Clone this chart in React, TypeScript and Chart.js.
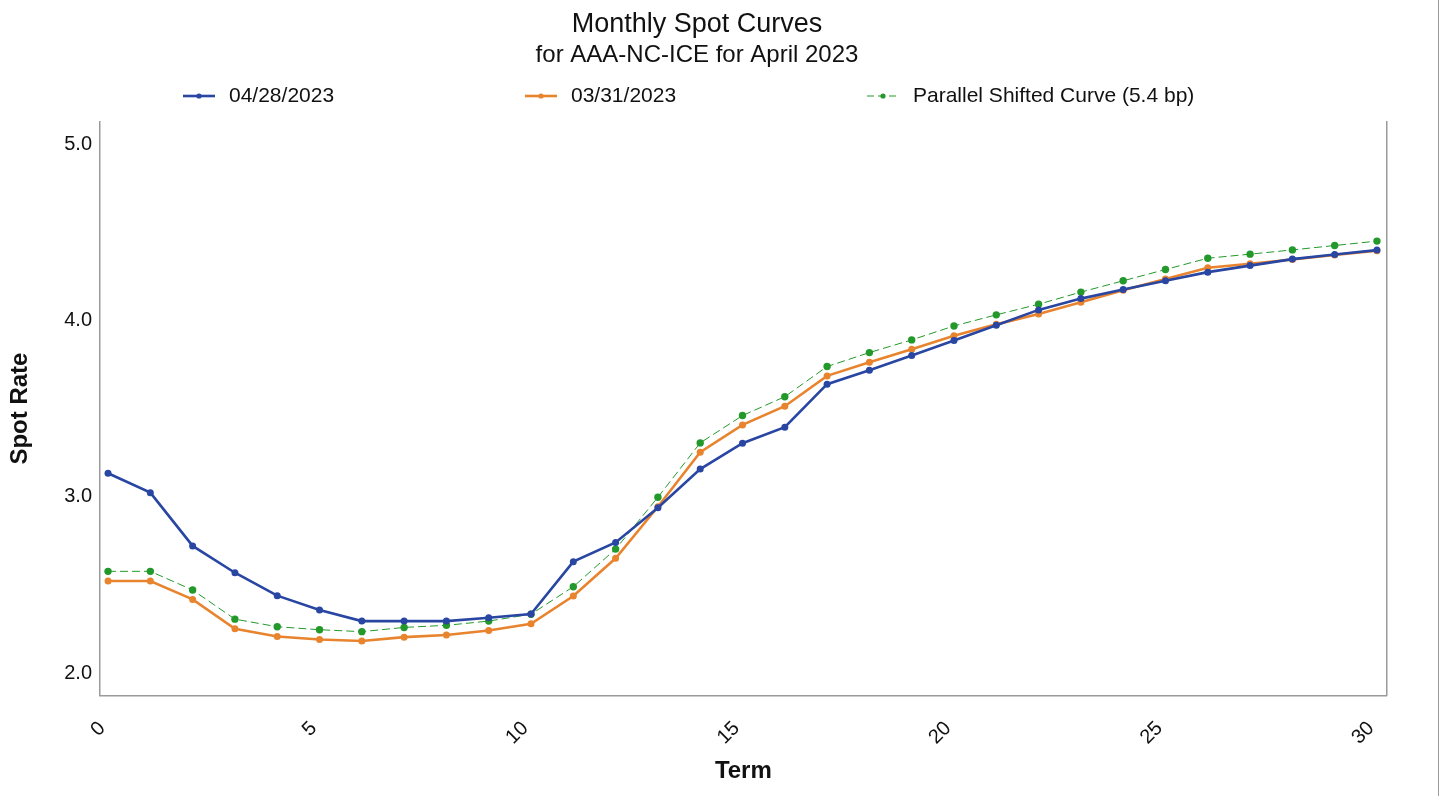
import React, { useEffect, useRef } from "react";
import { Chart, registerables } from "chart.js";

Chart.register(...registerables);

// ---------------- data ----------------
const terms = [
  0.14, 1.14, 2.14, 3.14, 4.14, 5.14, 6.14, 7.14, 8.14, 9.14, 10.14,
  11.14, 12.14, 13.14, 14.14, 15.14, 16.14, 17.14, 18.14, 19.14, 20.14,
  21.14, 22.14, 23.14, 24.14, 25.14, 26.14, 27.14, 28.14, 29.14, 30.14,
];

const rates0428 = [
  3.134, 3.024, 2.722, 2.570, 2.440, 2.359, 2.296, 2.296, 2.296, 2.315, 2.336,
  2.633, 2.742, 2.939, 3.158, 3.304, 3.395, 3.639, 3.718, 3.801, 3.886,
  3.973, 4.060, 4.124, 4.176, 4.225, 4.274, 4.311, 4.348, 4.374, 4.399,
];

const rates0331 = [
  2.523, 2.523, 2.419, 2.252, 2.209, 2.192, 2.183, 2.205, 2.217, 2.243, 2.281,
  2.438, 2.652, 2.944, 3.253, 3.408, 3.514, 3.686, 3.763, 3.837, 3.913,
  3.978, 4.037, 4.104, 4.171, 4.235, 4.299, 4.322, 4.346, 4.371, 4.396,
];

const ratesShifted = [
  2.578, 2.578, 2.472, 2.307, 2.264, 2.247, 2.236, 2.260, 2.272, 2.296, 2.335,
  2.491, 2.704, 2.998, 3.306, 3.461, 3.568, 3.739, 3.818, 3.890, 3.969,
  4.032, 4.092, 4.161, 4.225, 4.289, 4.353, 4.376, 4.400, 4.425, 4.450,
];

const seriesLabels = ["04/28/2023", "03/31/2023", "Parallel Shifted Curve (5.4 bp)"];
const xTickValues = [0, 5, 10, 15, 20, 25, 30];
const yTickValues = [2.0, 3.0, 4.0, 5.0];

const titleText = "Monthly Spot Curves";
const subtitleText = "for AAA-NC-ICE for April 2023";
const xAxisTitle = "Term";
const yAxisTitle = "Spot Rate";

// ---------------- styles ----------------
const FONT = "'Liberation Sans', Arial, Helvetica, sans-serif";
const BLUE = "#2846a2";
const ORANGE = "#e8842e";
const GREEN = "#22992a";
const FRAME = "#9a9a9a";
const TEXT = "#111111";

const toPoints = (ys: number[]) => ys.map((y, i) => ({ x: terms[i], y }));

const legendPlugin = {
  id: "customLegend",
  afterDraw(chart: any) {
    const ctx = chart.ctx as CanvasRenderingContext2D;
    const y = 96;
    const start = 183;
    const step = 342;
    chart.data.datasets.forEach((ds: any, i: number) => {
      const x0 = start + i * step;
      ctx.save();
      ctx.strokeStyle = ds.borderColor;
      ctx.lineWidth = ds.borderWidth;
      ctx.setLineDash(ds.borderDash ? [7, 4] : []);
      ctx.beginPath();
      ctx.moveTo(x0, y);
      ctx.lineTo(x0 + 32, y);
      ctx.stroke();
      ctx.setLineDash([]);
      ctx.fillStyle = ds.pointBackgroundColor;
      ctx.beginPath();
      ctx.arc(x0 + 16, y, 2.6, 0, Math.PI * 2);
      ctx.fill();
      ctx.fillStyle = TEXT;
      ctx.font = `21px ${FONT}`;
      ctx.textBaseline = "middle";
      ctx.textAlign = "left";
      ctx.fillText(ds.label, x0 + 46, y);
      ctx.restore();
    });
    // page edge line
    ctx.save();
    ctx.strokeStyle = "#9a9a9a";
    ctx.lineWidth = 1;
    ctx.beginPath();
    ctx.moveTo(1438.5, 0);
    ctx.lineTo(1438.5, 796);
    ctx.stroke();
    ctx.restore();
  },
};

export default function App() {
  const ref = useRef<HTMLCanvasElement>(null);

  useEffect(() => {
    if (!ref.current) return;
    const chart = new Chart(ref.current, {
      type: "line",
      data: {
        datasets: [
          {
            label: seriesLabels[0],
            data: toPoints(rates0428),
            borderColor: BLUE,
            backgroundColor: BLUE,
            pointBackgroundColor: BLUE,
            borderWidth: 2.6,
            pointRadius: 3.5,
            pointBorderWidth: 0,
            tension: 0,
          },
          {
            label: seriesLabels[1],
            data: toPoints(rates0331),
            borderColor: ORANGE,
            backgroundColor: ORANGE,
            pointBackgroundColor: ORANGE,
            borderWidth: 2.6,
            pointRadius: 3.5,
            pointBorderWidth: 0,
            tension: 0,
          },
          {
            label: seriesLabels[2],
            data: toPoints(ratesShifted),
            borderColor: GREEN,
            backgroundColor: GREEN,
            pointBackgroundColor: GREEN,
            borderWidth: 1,
            borderDash: [8, 4],
            pointRadius: 3.7,
            pointBorderWidth: 0,
            tension: 0,
          },
        ],
      },
      options: {
        responsive: false,
        devicePixelRatio: 1,
        animation: false,
        layout: { padding: { left: 0, right: 49, top: 0, bottom: 0 } },
        plugins: {
          legend: { display: false },
          tooltip: { enabled: false },
          title: {
            display: true,
            text: titleText,
            color: TEXT,
            font: { family: FONT, size: 27, weight: "normal", lineHeight: 1.2 },
            padding: { top: 8.4, bottom: 0 },
          },
          subtitle: {
            display: true,
            text: subtitleText,
            color: TEXT,
            font: { family: FONT, size: 24, weight: "normal", lineHeight: 1.2 },
            padding: { top: 0, bottom: 51.9 },
          },
        },
        scales: {
          x: {
            type: "linear",
            min: -0.05,
            max: 30.37,
            afterBuildTicks: (s: any) => {
              s.ticks = xTickValues.map((v) => ({ value: v }));
            },
            afterFit: (s: any) => {
              s.height = 100.3;
            },
            grid: { display: false, drawTicks: false, tickLength: 0 },
            border: { display: true, color: FRAME, width: 1.5 },
            ticks: {
              autoSkip: false,
              minRotation: 45,
              maxRotation: 45,
              padding: 21,
              color: TEXT,
              font: { family: FONT, size: 20 },
              callback: (v: any) => String(v),
            },
            title: {
              display: true,
              text: xAxisTitle,
              color: TEXT,
              font: { family: FONT, size: 24, weight: "bold", lineHeight: 1.2 },
              padding: { top: 0, bottom: 10 },
            },
          },
          y: {
            type: "linear",
            position: "left",
            min: 1.873,
            max: 5.128,
            afterBuildTicks: (s: any) => {
              s.ticks = yTickValues.map((v) => ({ value: v }));
            },
            afterFit: (s: any) => {
              s.width = 100;
            },
            grid: { display: false, drawTicks: false, tickLength: 0 },
            border: { display: true, color: FRAME, width: 1.5 },
            ticks: {
              padding: 8,
              color: TEXT,
              font: { family: FONT, size: 20 },
              callback: (v: any) => Number(v).toFixed(1),
            },
            title: {
              display: true,
              text: yAxisTitle,
              color: TEXT,
              font: { family: FONT, size: 24, weight: "bold", lineHeight: 1.2 },
              padding: { top: 5.6, bottom: 0 },
            },
          },
          y2: {
            type: "linear",
            position: "right",
            afterFit: (s: any) => {
              s.width = 7.3;
            },
            grid: { display: false, drawTicks: false, tickLength: 0 },
            border: { display: true, color: FRAME, width: 1.5 },
            ticks: { display: false },
          },
        },
      } as any,
      plugins: [legendPlugin],
    });
    return () => chart.destroy();
  }, []);

  return (
    <div
      style={{
        position: "fixed",
        left: 0,
        top: 0,
        width: 1443,
        height: 796,
        background: "#ffffff",
      }}
    >
      <canvas
        ref={ref}
        width={1443}
        height={796}
        style={{ display: "block", width: 1443, height: 796 }}
      />
    </div>
  );
}
